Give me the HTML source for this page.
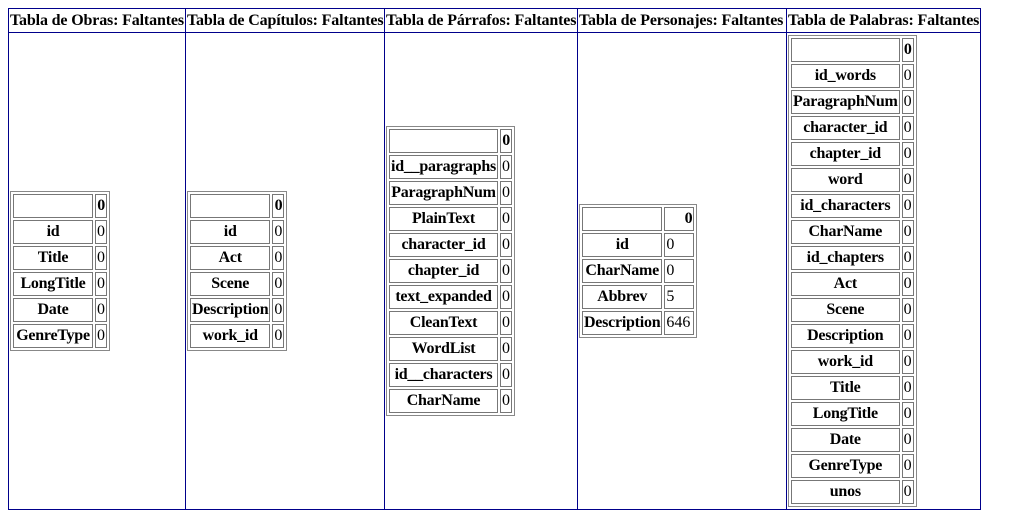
<!DOCTYPE html>
<html><head><meta charset="utf-8"><style>
body{margin:8px;font-family:"Liberation Serif",serif;font-size:16px;background:#fff;color:#000}
table.o{border-collapse:collapse;border:1px solid #00008b;table-layout:fixed;width:973px}
table.o>tbody>tr>th,table.o>tbody>tr>td{border:1px solid #00008b;padding:0;white-space:nowrap;overflow:hidden}
table.o>tbody>tr>th{height:23px;font-weight:bold;text-align:left;padding-left:1px;letter-spacing:-0.15px}
table.o>tbody>tr>td{height:476px;vertical-align:middle;text-align:left}
table.i{border:1px solid #888;border-spacing:2px;border-collapse:separate;display:inline-table;margin-left:1px}
table.i th,table.i td{border:1px solid #777;padding:1px;height:20px;white-space:nowrap}
table.i th{font-weight:bold;text-align:center;letter-spacing:-0.25px}
table.i td{text-align:left}
table.i tr:first-child th:last-child{text-align:right}
</style></head><body>
<table class="o"><colgroup><col style="width:177px"><col style="width:199px"><col style="width:193px"><col style="width:209px"><col style="width:194px"></colgroup>
<tr><th>Tabla de Obras: Faltantes</th><th>Tabla de Capítulos: Faltantes</th><th>Tabla de Párrafos: Faltantes</th><th>Tabla de Personajes: Faltantes</th><th>Tabla de Palabras: Faltantes</th></tr>
<tr>
<td><table class="i"><tr><th style="width:76px"></th><th>0</th></tr>
<tr><th>id</th><td>0</td></tr><tr><th>Title</th><td>0</td></tr><tr><th>LongTitle</th><td>0</td></tr><tr><th>Date</th><td>0</td></tr><tr><th>GenreType</th><td>0</td></tr></table></td>
<td><table class="i"><tr><th style="width:76px"></th><th>0</th></tr>
<tr><th>id</th><td>0</td></tr><tr><th>Act</th><td>0</td></tr><tr><th>Scene</th><td>0</td></tr><tr><th>Description</th><td>0</td></tr><tr><th>work_id</th><td>0</td></tr></table></td>
<td><table class="i"><tr><th style="width:100px"></th><th>0</th></tr>
<tr><th>id__paragraphs</th><td>0</td></tr><tr><th>ParagraphNum</th><td>0</td></tr><tr><th>PlainText</th><td>0</td></tr><tr><th>character_id</th><td>0</td></tr><tr><th>chapter_id</th><td>0</td></tr><tr><th>text_expanded</th><td>0</td></tr><tr><th>CleanText</th><td>0</td></tr><tr><th>WordList</th><td>0</td></tr><tr><th>id__characters</th><td>0</td></tr><tr><th>CharName</th><td>0</td></tr></table></td>
<td><table class="i"><tr><th style="width:76px"></th><th style="width:26px">0</th></tr>
<tr><th>id</th><td>0</td></tr><tr><th>CharName</th><td>0</td></tr><tr><th>Abbrev</th><td>5</td></tr><tr><th>Description</th><td>646</td></tr></table></td>
<td><table class="i"><tr><th style="width:100px"></th><th>0</th></tr>
<tr><th>id_words</th><td>0</td></tr><tr><th>ParagraphNum</th><td>0</td></tr><tr><th>character_id</th><td>0</td></tr><tr><th>chapter_id</th><td>0</td></tr><tr><th>word</th><td>0</td></tr><tr><th>id_characters</th><td>0</td></tr><tr><th>CharName</th><td>0</td></tr><tr><th>id_chapters</th><td>0</td></tr><tr><th>Act</th><td>0</td></tr><tr><th>Scene</th><td>0</td></tr><tr><th>Description</th><td>0</td></tr><tr><th>work_id</th><td>0</td></tr><tr><th>Title</th><td>0</td></tr><tr><th>LongTitle</th><td>0</td></tr><tr><th>Date</th><td>0</td></tr><tr><th>GenreType</th><td>0</td></tr><tr><th>unos</th><td>0</td></tr></table></td>
</tr></table>
</body></html>
